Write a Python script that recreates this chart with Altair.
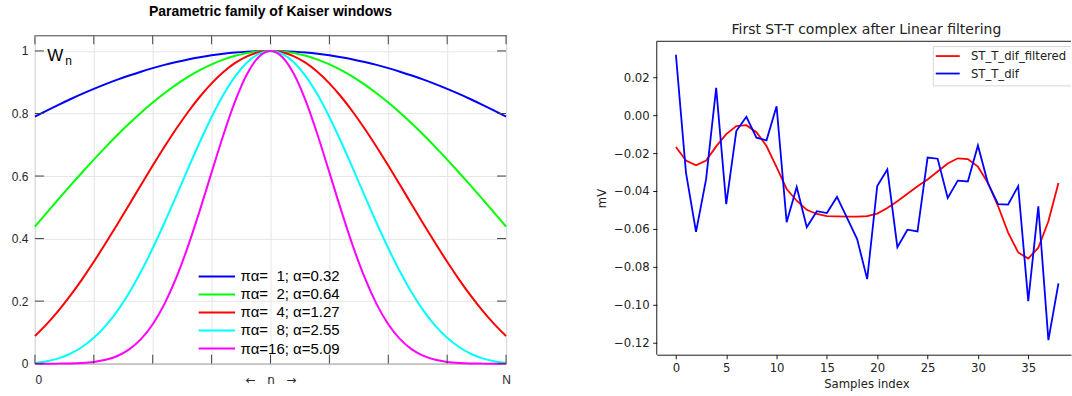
import altair as alt
import pandas as pd

# ---------------- Left panel data: Kaiser windows (half curves, t = 0 .. 1) ----------------
T_HALF = [0.00, 0.05, 0.10, 0.15, 0.20, 0.25, 0.30, 0.35, 0.40, 0.45, 0.50,
          0.55, 0.60, 0.65, 0.70, 0.75, 0.80, 0.85, 0.90, 0.95, 1.00]
W_PA1 = [1.0, 0.9994, 0.9978, 0.9950, 0.9911, 0.9861, 0.9800, 0.9729, 0.9646, 0.9554, 0.9450,
         0.9337, 0.9214, 0.9081, 0.8938, 0.8786, 0.8626, 0.8456, 0.8278, 0.8092, 0.7899]
W_PA2 = [1.0, 0.9983, 0.9930, 0.9844, 0.9723, 0.9570, 0.9384, 0.9168, 0.8922, 0.8648, 0.8348,
         0.8023, 0.7677, 0.7310, 0.6926, 0.6526, 0.6114, 0.5691, 0.5261, 0.4825, 0.4387]
W_PA4 = [1.0, 0.9957, 0.9828, 0.9617, 0.9327, 0.8964, 0.8535, 0.8048, 0.7512, 0.6937, 0.6334,
         0.5713, 0.5085, 0.4460, 0.3848, 0.3258, 0.2698, 0.2176, 0.1696, 0.1265, 0.0885]
W_PA8 = [1.0, 0.9907, 0.9632, 0.9189, 0.8598, 0.7888, 0.7089, 0.6237, 0.5365, 0.4507, 0.3690,
         0.2938, 0.2268, 0.1691, 0.1211, 0.0828, 0.0533, 0.0318, 0.0171, 0.0077, 0.0023]
W_PA16 = [1.0, 0.9808, 0.9253, 0.8393, 0.7313, 0.6116, 0.4902, 0.3758, 0.2749, 0.1913, 0.1261,
          0.0784, 0.0457, 0.0247, 0.0123, 0.0055, 0.0022, 0.0007, 0.0002, 0.0000, 0.0000]
SERIES_L = ["πα=\u00a0\u00a01; α=0.32", "πα=\u00a0\u00a02; α=0.64", "πα=\u00a0\u00a04; α=1.27",
            "πα=\u00a0\u00a08; α=2.55", "πα=16; α=5.09"]
COLORS_L = ["#0000ff", "#00ff00", "#ff0000", "#00ffff", "#ff00ff"]
X_TICKS_L = [-1, -0.75, -0.5, -0.25, 0, 0.25, 0.5, 0.75, 1]
Y_TICKS_L = [0, 0.2, 0.4, 0.6, 0.8, 1.0]
TITLE_L = "Parametric family of Kaiser windows"

# ---------------- Right panel data ----------------
SAMPLES = list(range(39))
ST_T_DIF = [0.0319, -0.0303, -0.0616, -0.0338, 0.0144, -0.0470, -0.0084, -0.0009, -0.0119, -0.0133,
            0.0047, -0.0565, -0.0379, -0.0592, -0.0507, -0.0517, -0.0432, -0.0542, -0.0654, -0.0866,
            -0.0374, -0.0287, -0.0697, -0.0605, -0.0614, -0.0224, -0.0230, -0.0437, -0.0346, -0.0350,
            -0.0160, -0.0360, -0.0470, -0.0472, -0.0375, -0.0982, -0.0482, -0.1188, -0.0888]
ST_T_DIF_FILTERED = [-0.0168, -0.0240, -0.0265, -0.0240, -0.0165, -0.0100, -0.0058, -0.0053, -0.0090,
                     -0.0163, -0.0275, -0.0390, -0.0452, -0.0500, -0.0522, -0.0533, -0.0535, -0.0536,
                     -0.0536, -0.0533, -0.0520, -0.0490, -0.0455, -0.0415, -0.0375, -0.0340, -0.0298,
                     -0.0255, -0.0228, -0.0232, -0.0272, -0.0358, -0.0480, -0.0620, -0.0725, -0.0757,
                     -0.0700, -0.0560, -0.0358]
SERIES_R = ["ST_T_dif_filtered", "ST_T_dif"]
COLORS_R = ["#ff0000", "#0000ff"]
X_TICKS_R = [0, 5, 10, 15, 20, 25, 30, 35]
Y_TICKS_R = [-0.12, -0.10, -0.08, -0.06, -0.04, -0.02, 0.00, 0.02]
TITLE_R = "First ST-T complex after Linear filtering"

# ---------------- styles ----------------
FL = "Liberation Sans"
FR = "DejaVu Sans"
FRAME = "#404040"
GRID = "#e6e6e6"
TXT_L = "#262626"
TXT_R = "#222222"
LW, LH = 472, 329
RW = 415
RTOP = 6            # right axes box starts 6 px below the view top
RH = 314            # height of the right axes box
RVH = RH + RTOP     # full right view height
TK = 9
PX_PER_UNIT_R = 1897.3
BOUND_TOP = -34.5


def one(s):
    return pd.DataFrame({"s": [s]})


def text_at(s, x, y, **kw):
    return alt.Chart(one(s)).mark_text(**kw).encode(x=alt.value(x), y=alt.value(y), text="s:N")


# ================= LEFT PANEL =================
xs_l = alt.Scale(domain=[-1, 1], nice=False, zero=False)
ys_l = alt.Scale(domain=[0, 1.05], nice=False, zero=False)
x_expr = ("datum.value == -1 ? '0' : (datum.value == 1 ? 'N' : (datum.value == 0 ? "
          "'\u2190\u00a0\u00a0\u00a0n\u00a0\u00a0\u00a0\u2192' : ''))")
xax_l = alt.Axis(values=X_TICKS_L, labelExpr=x_expr, title=None, grid=True, gridColor=GRID,
                 gridWidth=1, ticks=False, tickSize=0, domain=False,
                 labelFont={"condition": {"test": "datum.value == 0", "value": "DejaVu Sans"},
                            "value": FL},
                 labelFontSize=12, labelColor=TXT_L, labelPadding=16, labelBaseline="middle",
                 labelFlush=False, labelOverlap=False,
                 labelAlign={"condition": {"test": "datum.value == -1", "value": "left"},
                             "value": "center"})
yax_l = alt.Axis(values=Y_TICKS_L, format="~g", title=None, grid=True, gridColor=GRID,
                 gridWidth=1, ticks=False, tickSize=0, domain=False, labelFont=FL,
                 labelFontSize=12, labelColor=TXT_L, labelPadding=7, labelOverlap=False)

left_layers = []
for lab, col, vals in zip(SERIES_L, COLORS_L, [W_PA1, W_PA2, W_PA4, W_PA8, W_PA16]):
    rows = []
    for t, w in zip(reversed(T_HALF), reversed(vals)):
        if t > 0:
            rows.append({"t": -t, "w": w})
    for t, w in zip(T_HALF, vals):
        rows.append({"t": t, "w": w})
    df = pd.DataFrame(rows)
    left_layers.append(
        alt.Chart(df).mark_line(color=col, strokeWidth=2, interpolate="monotone").encode(
            x=alt.X("t:Q", scale=xs_l, axis=xax_l), y=alt.Y("w:Q", scale=ys_l, axis=yax_l)))

xt_df = pd.DataFrame({"t": X_TICKS_L})
yt_df = pd.DataFrame({"w": Y_TICKS_L})
left_layers += [
    alt.Chart(xt_df).mark_rule(color=FRAME, strokeWidth=1).encode(
        x=alt.X("t:Q", scale=xs_l, axis=xax_l), y=alt.value(LH), y2=alt.value(LH - TK)),
    alt.Chart(xt_df).mark_rule(color=FRAME, strokeWidth=1).encode(
        x=alt.X("t:Q", scale=xs_l, axis=xax_l), y=alt.value(0), y2=alt.value(TK)),
    alt.Chart(yt_df).mark_rule(color=FRAME, strokeWidth=1).encode(
        y=alt.Y("w:Q", scale=ys_l, axis=yax_l), x=alt.value(0), x2=alt.value(TK)),
    alt.Chart(yt_df).mark_rule(color=FRAME, strokeWidth=1).encode(
        y=alt.Y("w:Q", scale=ys_l, axis=yax_l), x=alt.value(LW - TK), x2=alt.value(LW)),
]

# legend (inside, bottom centre)
LEG_Y0, LEG_DY = 241.6, 18.05
for i, (lab, col) in enumerate(zip(SERIES_L, COLORS_L)):
    yy = LEG_Y0 + i * LEG_DY
    left_layers.append(
        alt.Chart(one(lab)).mark_rule(color=col, strokeWidth=2).encode(
            x=alt.value(164), x2=alt.value(200.5), y=alt.value(yy)))
    left_layers.append(text_at(lab, 206, yy, align="left", baseline="middle", font=FL,
                               fontSize=15, color="#000000"))

left_layers += [
    text_at(TITLE_L, LW / 2, -19.3, align="center", baseline="alphabetic", font=FL,
            fontSize=14, fontWeight="bold", color="#000000"),
    text_at("W", 12.3, 26, align="left", baseline="alphabetic", font=FL, fontSize=17,
            color="#000000"),
    text_at("n", 30.3, 29.5, align="left", baseline="alphabetic", font=FL, fontSize=12,
            color="#000000"),
    # invisible bounds helper
    alt.Chart(one("b")).mark_rule(strokeOpacity=0).encode(
        x=alt.value(-34.5), x2=alt.value(LW + 10), y=alt.value(BOUND_TOP)),
]

left = alt.layer(*left_layers).properties(
    width=LW, height=LH, view=alt.ViewBackground(stroke=FRAME, strokeWidth=1))

# ================= RIGHT PANEL =================
xs_r = alt.Scale(domain=[-1.9, -1.9 + RW / 10.086], nice=False, zero=False)
ys_r = alt.Scale(domain=[-0.1265, 0.039 + RTOP / PX_PER_UNIT_R], nice=False, zero=False)
xax_r = alt.Axis(values=X_TICKS_R, format="d", title="Samples index", grid=False,
                 tickSize=4.1, tickWidth=0.9, tickColor="#000000", domainColor="#000000",
                 domainWidth=0.9, labelFont=FR, labelFontSize=11.7, labelColor=TXT_R,
                 labelPadding=3.5, labelFlush=False, labelOverlap=False,
                 titleFont=FR, titleFontSize=11.7, titleFontWeight="normal", titleColor=TXT_R,
                 titleX=210, titleY=29, titleAlign="center", titleBaseline="middle")
yax_r = alt.Axis(values=Y_TICKS_R, format=".2f", title="mV", grid=False, domain=False,
                 tickSize=4.1, tickWidth=0.9, tickColor="#000000",
                 labelFont=FR, labelFontSize=11.7, labelColor=TXT_R,
                 labelPadding=3.5, labelOverlap=False,
                 titleFont=FR, titleFontSize=11.7, titleFontWeight="normal", titleColor=TXT_R,
                 titleX=-55, titleY=RTOP + RH / 2, titleAngle=270, titleAlign="center",
                 titleBaseline="middle")

rdf_f = pd.DataFrame({"i": SAMPLES, "v": ST_T_DIF_FILTERED})
rdf_d = pd.DataFrame({"i": SAMPLES, "v": ST_T_DIF})

right_layers = [
    alt.Chart(rdf_f).mark_line(color=COLORS_R[0], strokeWidth=1.8).encode(
        x=alt.X("i:Q", scale=xs_r, axis=xax_r), y=alt.Y("v:Q", scale=ys_r, axis=yax_r)),
    alt.Chart(rdf_d).mark_line(color=COLORS_R[1], strokeWidth=1.8).encode(
        x=alt.X("i:Q", scale=xs_r, axis=xax_r), y=alt.Y("v:Q", scale=ys_r, axis=yax_r)),
    # top and left spines
    alt.Chart(one("top")).mark_rule(color="#000000", strokeWidth=0.9).encode(
        x=alt.value(0), x2=alt.value(RW), y=alt.value(RTOP)),
    alt.Chart(one("left")).mark_rule(color="#000000", strokeWidth=0.9).encode(
        x=alt.value(0), y=alt.value(RTOP), y2=alt.value(RVH)),
    # legend frame
    alt.Chart(one("bg")).mark_rect(fill="#ffffff", opacity=0.8).encode(
        x=alt.value(277), x2=alt.value(RW), y=alt.value(RTOP + 5.3), y2=alt.value(RTOP + 44.7)),
    alt.Chart(one("f1")).mark_rule(color="#d6d6d6", strokeWidth=1).encode(
        x=alt.value(277), x2=alt.value(RW), y=alt.value(RTOP + 5.3)),
    alt.Chart(one("f2")).mark_rule(color="#d6d6d6", strokeWidth=1).encode(
        x=alt.value(277), x2=alt.value(RW), y=alt.value(RTOP + 44.7)),
    alt.Chart(one("f3")).mark_rule(color="#d6d6d6", strokeWidth=1).encode(
        x=alt.value(277), y=alt.value(RTOP + 5.3), y2=alt.value(RTOP + 44.7)),
]
for i, (lab, col) in enumerate(zip(SERIES_R, COLORS_R)):
    yy = RTOP + 14.8 + i * 17.5
    right_layers.append(
        alt.Chart(one(lab)).mark_rule(color=col, strokeWidth=1.8).encode(
            x=alt.value(279.5), x2=alt.value(303.5), y=alt.value(yy)))
    right_layers.append(text_at(lab, 314.7, yy, align="left", baseline="middle", font=FR,
                                fontSize=11.7, color=TXT_R))
right_layers += [
    text_at(TITLE_R, 210, RTOP - 7.4, align="center", baseline="alphabetic", font=FR,
            fontSize=14, color=TXT_R),
    alt.Chart(one("b")).mark_rule(strokeOpacity=0).encode(
        x=alt.value(-80), x2=alt.value(0), y=alt.value(BOUND_TOP)),
]

right = alt.layer(*right_layers).properties(
    width=RW, height=RVH, view=alt.ViewBackground(stroke="transparent"))

chart = alt.hconcat(left, right, spacing=59).properties(padding=0)

chart.save("out.html", embed_options={"renderer": "svg", "actions": False})
